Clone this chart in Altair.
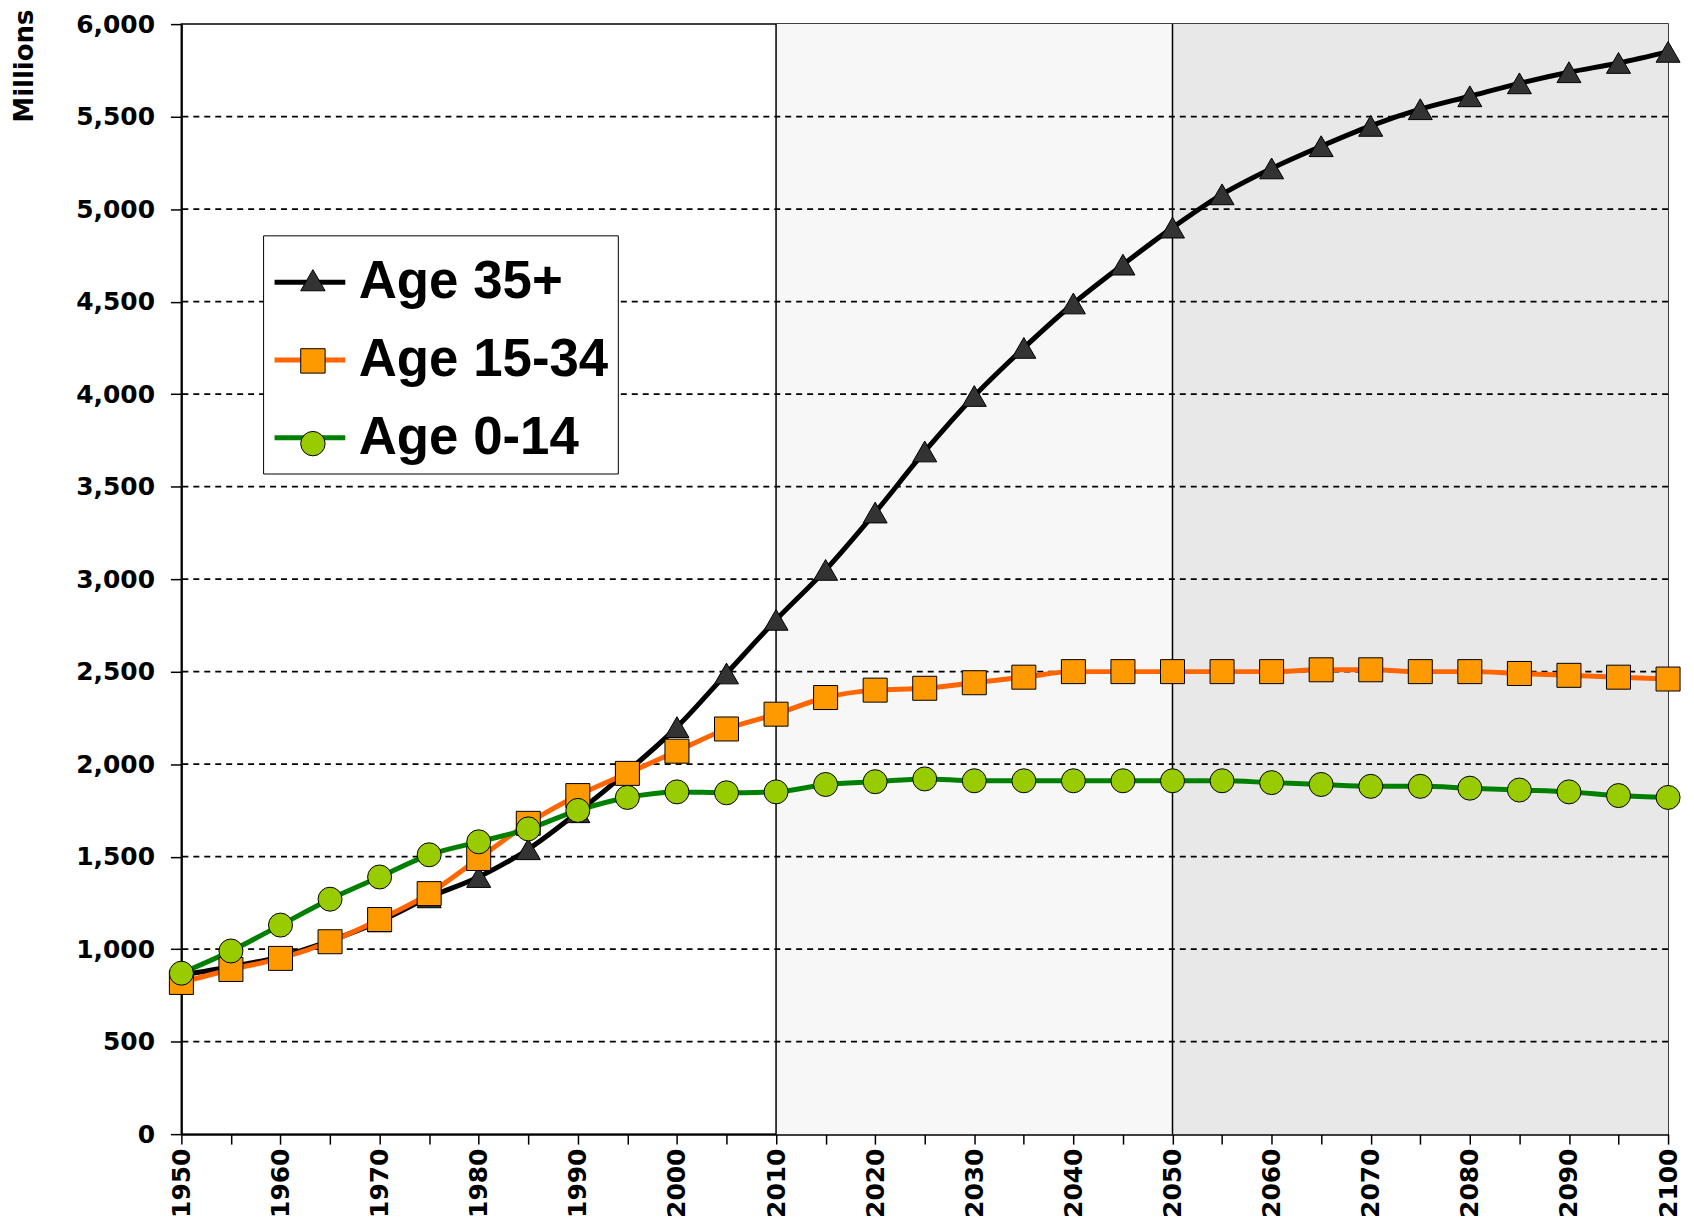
import altair as alt
import pandas as pd

# ---------------- data ----------------
years = list(range(1950, 2101, 5))
series_names = ["Age 35+", "Age 15-34", "Age 0-14"]
marker_keys = ["35+", "15-34", "0-14"]
age_35_plus = [860, 905, 960, 1045, 1150, 1280, 1390, 1540, 1740, 1960,
               2200, 2490, 2780, 3050, 3360, 3690, 3990, 4250, 4490, 4700,
               4900, 5080, 5220, 5340, 5450, 5540, 5610, 5680, 5740, 5790, 5850]
age_15_34 = [820, 890, 950, 1040, 1160, 1300, 1490, 1680, 1830, 1950,
             2070, 2190, 2270, 2360, 2400, 2410, 2440, 2470, 2500, 2500,
             2500, 2500, 2500, 2510, 2510, 2500, 2500, 2490, 2480, 2470, 2460]
age_0_14 = [870, 990, 1130, 1270, 1390, 1510, 1580, 1650, 1750, 1820,
            1850, 1845, 1850, 1890, 1905, 1920, 1910, 1910, 1910, 1910,
            1910, 1910, 1900, 1890, 1880, 1880, 1870, 1860, 1850, 1830, 1820]
y_ticks = list(range(0, 6001, 500))
grid_values = list(range(500, 6000, 500))
divider_years = [2010, 2050]
period_names = ["2010-2050", "2050-2100"]
period_start = [2010, 2050]
period_end = [2050, 2100]

rows = []
for name, key, vals in zip(series_names, marker_keys, [age_35_plus, age_15_34, age_0_14]):
    for yr, v in zip(years, vals):
        rows.append({"series": name, "marker": key, "year": yr, "value": v})
df = pd.DataFrame(rows)
periods = pd.DataFrame({"period": period_names, "start": period_start, "end": period_end})
grid_df = pd.DataFrame({"value": grid_values})
div_df = pd.DataFrame({"year": divider_years})

# ---------------- styling ----------------
W, H = 1492, 1114
line_colors = ["#000000", "#FF6600", "#008000"]
marker_fills = ["#333333", "#FF9900", "#99CC00"]
marker_shapes = ["triangle-up", "square", "circle"]
period_fills = ["#F7F7F7", "#E8E8E8"]
AX_FONT = "DejaVu Sans"
LEG_FONT = "Liberation Sans"

x_axis = alt.Axis(values=years,
                  labelExpr="datum.value % 10 == 0 ? '' + datum.value : ''",
                  labelAngle=-90, tickSize=10, tickWidth=1.5, tickColor="black",
                  labelPadding=4, grid=False, title=None,
                  labelFont=AX_FONT, labelFontSize=25, labelFontWeight="bold",
                  labelColor="black", domainColor="black", domainWidth=2,
                  labelOverlap=False, labelFlush=False)
y_axis = alt.Axis(values=y_ticks, format=",d", tickSize=11, tickWidth=1.5,
                  tickColor="black", labelPadding=16, grid=False,
                  title="Millions", titleFont=AX_FONT, titleFontSize=26,
                  titleFontWeight="bold", titleColor="black", titleAngle=270,
                  titleX=-157, titleY=-15, titleAlign="right", titleBaseline="middle",
                  labelFont=AX_FONT, labelFontSize=25, labelFontWeight="bold",
                  labelColor="black", domainColor="black", domainWidth=2,
                  labelOverlap=False, labelFlush=False)
x_scale = alt.Scale(domain=[1950, 2100], nice=False, zero=False)
y_scale = alt.Scale(domain=[0, 6000], nice=False, zero=True)

X = alt.X("year:Q", scale=x_scale, axis=x_axis)
Y = alt.Y("value:Q", scale=y_scale, axis=y_axis)

bg = alt.Chart(periods).mark_rect().encode(
    x=alt.X("start:Q", scale=x_scale, axis=x_axis),
    x2="end:Q",
    y=alt.value(0), y2=alt.value(H),
    fill=alt.Fill("period:N", scale=alt.Scale(domain=period_names, range=period_fills), legend=None),
)

grid = alt.Chart(grid_df).mark_rule(color="black", strokeWidth=1.6, strokeDash=[6, 5]).encode(
    y=Y
)

dividers = alt.Chart(div_df).mark_rule(color="black", strokeWidth=1.5).encode(
    x=X
)

legend_x, legend_y = 82, 212
line_legend = alt.Legend(orient="none", legendX=legend_x, legendY=legend_y, title=None,
                         symbolType="stroke", symbolSize=5041, symbolStrokeWidth=5,
                         labelFont=LEG_FONT, labelFontSize=53, labelFontWeight="bold",
                         labelColor="black", labelLimit=500, labelOffset=11,
                         rowPadding=13, padding=9, strokeColor="black", fillColor="white",
                         zindex=1)
marker_legend = alt.Legend(orient="none", legendX=legend_x, legendY=legend_y + 23, title=None,
                           symbolSize=600, symbolStrokeColor="black", symbolStrokeWidth=1,
                           symbolOffset=28, labelExpr="''",
                           labelFontSize=1, labelLimit=10, labelOffset=0,
                           rowPadding=53, padding=9, zindex=2)

lines = alt.Chart(df).mark_line(strokeWidth=5, interpolate="monotone").encode(
    x=X, y=Y,
    color=alt.Color("series:N", scale=alt.Scale(domain=series_names, range=line_colors),
                    legend=line_legend),
)

points = alt.Chart(df).mark_point(filled=True, stroke="black", strokeWidth=1,
                                  opacity=1, fillOpacity=1, size=580).encode(
    x=X, y=Y,
    color=alt.Color("marker:N", scale=alt.Scale(domain=marker_keys, range=marker_fills),
                    legend=marker_legend),
    shape=alt.Shape("marker:N", scale=alt.Scale(domain=marker_keys, range=marker_shapes),
                    legend=marker_legend),
)

chart = alt.layer(bg, grid, dividers, lines, points).resolve_scale(
    fill="independent", color="independent", shape="independent"
).properties(
    width=W, height=H,
    autosize=alt.AutoSizeParams(type="none"),
    padding={"left": 174, "top": 14, "right": 18, "bottom": 87},
).configure(background="white").configure_view(stroke="black", strokeWidth=1.5)

chart.save("out.html", embed_options={"renderer": "svg", "actions": False})
